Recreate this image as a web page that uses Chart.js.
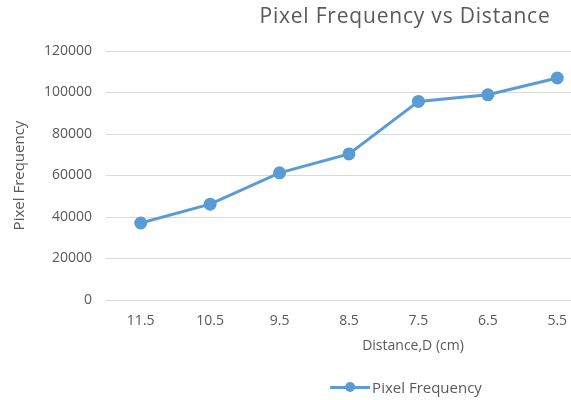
<!DOCTYPE html>
<html>
<head>
<meta charset="utf-8">
<script src="https://cdn.jsdelivr.net/npm/chart.js@4"></script>
<style>
  html, body { margin: 0; padding: 0; background: #fff; overflow: hidden; width: 571px; height: 400px; }
  #wrap { position: absolute; left: 0; top: 0; width: 600px; height: 400px; }
  .lbl { position: absolute; font-family: "Open Sans", sans-serif; color: #595959; white-space: nowrap; transform: translateX(-50%); }
  #title { left: 405px; top: 1px; font-size: 21px; letter-spacing: 0.8px; }
  #xtitle { left: 413px; top: 335px; font-size: 14px; }
  #legend { left: 406px; top: 377px; font-size: 15px; display: flex; align-items: center; }
  .key { position: relative; width: 40px; height: 3px; background: #5b9bd5; margin-right: 2px; }
  .key::after { content: ""; position: absolute; left: 15px; top: -3.5px; width: 10px; height: 10px; border-radius: 50%; background: #5b9bd5; }
</style>
</head>
<body>
<div id="wrap"><canvas id="c" width="600" height="400"></canvas></div>
<div class="lbl" id="title">Pixel Frequency vs Distance</div>
<div class="lbl" id="xtitle">Distance,D (cm)</div>
<div class="lbl" id="legend"><span class="key"></span><span>Pixel Frequency</span></div>
<script>
// Distance categories (cm), read left to right
const distances = ['11.5', '10.5', '9.5', '8.5', '7.5', '6.5', '5.5'];
// Pixel frequency measured at each distance
const pixelFrequency = [37100, 46200, 61300, 70400, 95700, 98900, 107000];
// Value axis range
const yMin = 0;
const yMax = 120000;
const yStep = 20000;

const textColor = '#595959';
const gridColor = '#d9d9d9';
const lineColor = '#5b9bd5';
const fontFamily = '"Open Sans", sans-serif';

new Chart(document.getElementById('c'), {
  type: 'line',
  data: {
    labels: distances,
    datasets: [{
      label: 'Pixel Frequency',
      data: pixelFrequency,
      borderColor: lineColor,
      backgroundColor: lineColor,
      borderWidth: 3,
      pointRadius: 5,
      pointHoverRadius: 5,
      pointBackgroundColor: lineColor,
      pointBorderColor: lineColor,
      tension: 0
    }]
  },
  options: {
    responsive: false,
    animation: false,
    devicePixelRatio: 1,
    layout: { padding: { top: 51, left: 0, right: 8, bottom: 0 } },
    plugins: {
      legend: { display: false },
      title: { display: false },
      tooltip: { enabled: false }
    },
    scales: {
      x: {
        type: 'category',
        offset: true,
        grid: { display: false, drawTicks: false },
        border: { display: false },
        ticks: { color: textColor, padding: 13, font: { family: fontFamily, size: 14 } },
        afterFit: s => { s.height = 100; }
      },
      y: {
        min: yMin,
        max: yMax,
        grid: { color: gridColor, lineWidth: 1, drawTicks: false },
        border: { display: false },
        ticks: {
          stepSize: yStep,
          color: textColor,
          padding: 14,
          font: { family: fontFamily, size: 14 },
          callback: v => String(v)
        },
        title: { display: true, text: 'Pixel Frequency', color: textColor, font: { family: fontFamily, size: 15 }, padding: { top: 11, bottom: 0 } },
        afterFit: s => { s.width = 106; }
      }
    }
  }
});
</script>
</body>
</html>
